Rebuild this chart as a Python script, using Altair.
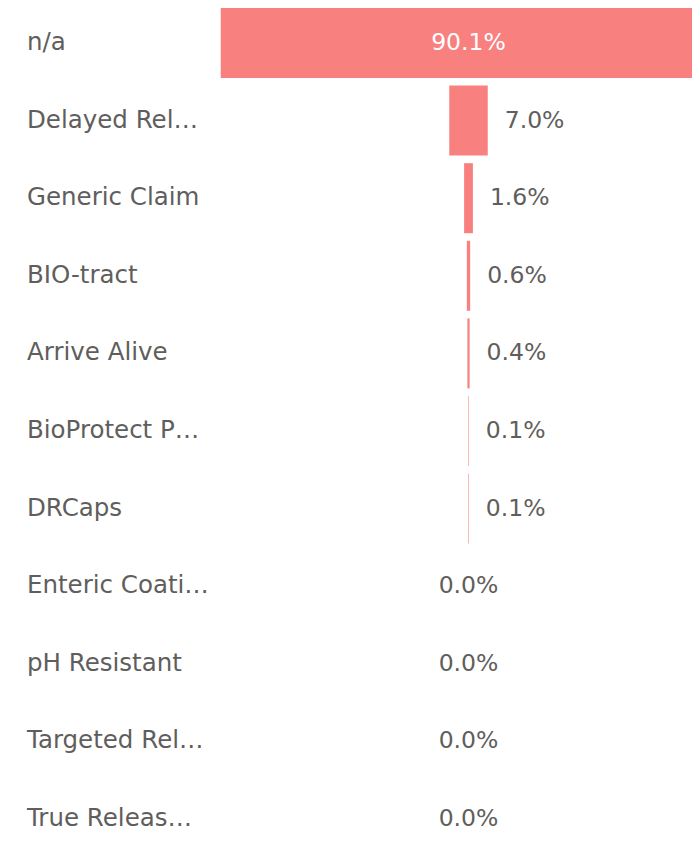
import altair as alt
import pandas as pd

categories = ["n/a", "Delayed Rel…", "Generic Claim", "BIO-tract", "Arrive Alive",
              "BioProtect P…", "DRCaps", "Enteric Coati…", "pH Resistant",
              "Targeted Rel…", "True Releas…"]
values = [90.1, 7.0, 1.6, 0.6, 0.4, 0.1, 0.1, 0.0, 0.0, 0.0, 0.0]

df = pd.DataFrame({"cat": categories, "v": values, "idx": list(range(len(categories)))})

FONT = "DejaVu Sans"
BAR = "#F8807F"
GRAY = "#605E5C"

W, H = 684, 824
PX_PER_UNIT = 5.5
CENTER = 460.5
STEP = 77.6
FIRST = 35.0
HALF_BAR = 35.0 / STEP

xmin = -CENTER / PX_PER_UNIT
xmax = xmin + W / PX_PER_UNIT
ymin = -FIRST / STEP
ymax = ymin + H / STEP

x_scale = alt.Scale(domain=[xmin, xmax], nice=False, zero=False)
y_scale = alt.Scale(domain=[ymin, ymax], nice=False, zero=False, reverse=True)

base = alt.Chart(df).transform_calculate(
    x1="-datum.v/2", x2="datum.v/2",
    y1=f"datum.idx-{HALF_BAR}", y2=f"datum.idx+{HALF_BAR}",
    lab="format(datum.v, '.1f') + '%'", zero="0"
)

bars = base.mark_bar(color=BAR, clip=True).encode(
    x=alt.X("x1:Q", scale=x_scale, axis=None),
    x2="x2:Q",
    y=alt.Y("y1:Q", scale=y_scale, axis=None),
    y2="y2:Q",
)

cat_text = base.mark_text(align="left", baseline="middle", font=FONT, fontSize=24.5,
                          color=GRAY).encode(
    x=alt.value(19),
    y=alt.Y("idx:Q", scale=y_scale, axis=None),
    text="cat:N",
)

inside = base.transform_filter("datum.v > 50").mark_text(
    align="center", baseline="middle", font=FONT, fontSize=23.5, color="white"
).encode(
    x=alt.X("zero:Q", scale=x_scale, axis=None),
    y=alt.Y("idx:Q", scale=y_scale, axis=None),
    text="lab:N",
)

right = base.transform_filter("datum.v > 0 && datum.v <= 50").mark_text(
    align="left", baseline="middle", font=FONT, fontSize=23.5, color=GRAY, dx=17
).encode(
    x=alt.X("x2:Q", scale=x_scale, axis=None),
    y=alt.Y("idx:Q", scale=y_scale, axis=None),
    text="lab:N",
)

zero_t = base.transform_filter("datum.v == 0").mark_text(
    align="center", baseline="middle", font=FONT, fontSize=23.5, color=GRAY
).encode(
    x=alt.X("zero:Q", scale=x_scale, axis=None),
    y=alt.Y("idx:Q", scale=y_scale, axis=None),
    text="lab:N",
)

chart = alt.layer(bars, cat_text, inside, right, zero_t).properties(
    width=W, height=H, autosize=alt.AutoSizeParams(type="none"), padding=0
).configure_view(stroke=None)

chart.save("out.html", embed_options={"renderer": "svg", "actions": False})
